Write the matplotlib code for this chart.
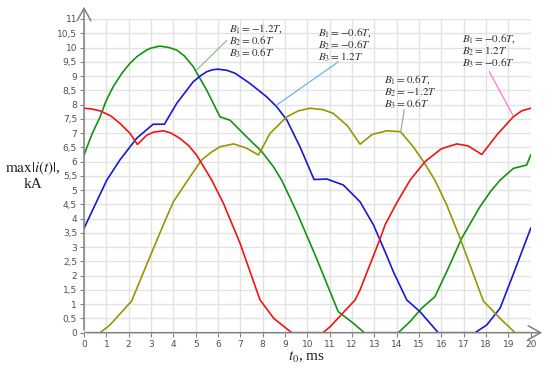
import numpy as np
import matplotlib
matplotlib.use("Agg")
import matplotlib.pyplot as plt

plt.rcParams['mathtext.fontset'] = 'stix'
plt.rcParams['font.family'] = ['DejaVu Sans']

# curves: t0 in ms, max|i(t)| in kA
red_t = [0, 0.3, 0.72, 1.2, 1.61, 2.06, 2.39, 2.8, 3.1, 3.55, 3.9, 4.30, 4.7, 5.04, 5.72, 6.24, 6.99,
         7.88, 8.5, 9.3, 10.7, 11.02, 12.14, 12.36, 13.26, 13.48, 14.0, 14.6, 15.27, 16.0, 16.69,
         17.2, 17.81, 18.5, 19.22, 19.6, 20.0]
red_v = [7.87, 7.85, 7.78, 7.6, 7.34, 6.99, 6.60, 6.92, 7.03, 7.08, 7.0, 6.81, 6.55, 6.23, 5.35, 4.54, 3.13,
         1.15, 0.5, 0.0, 0.0, 0.21, 1.15, 1.5, 3.3, 3.78, 4.55, 5.35, 6.0, 6.45, 6.62,
         6.55, 6.25, 6.95, 7.57, 7.78, 7.87]

olive_t = [0, 0.72, 1.16, 2.13, 2.95, 3.55, 4.0, 4.75, 5.27, 5.7, 6.09, 6.7, 7.28, 7.81, 8.33, 9.08,
           9.6, 10.12, 10.7, 11.16, 11.8, 12.36, 12.9, 13.55, 14.17, 14.74, 15.2, 15.71, 16.24,
           16.84, 17.88, 18.63, 19.3, 20]
olive_v = [0, 0, 0.27, 1.11, 2.66, 3.78, 4.59, 5.47, 6.06, 6.33, 6.52, 6.62, 6.47, 6.23, 6.99, 7.57,
           7.78, 7.87, 7.82, 7.69, 7.25, 6.61, 6.95, 7.08, 7.05, 6.52, 6.0, 5.35, 4.48,
           3.31, 1.11, 0.5, 0.0, 0]

green_t = [0, 0.35, 0.72, 1.0, 1.31, 1.7, 2.06, 2.4, 2.8, 3.0, 3.40, 3.8, 4.15, 4.5, 4.89, 5.49,
           6.09, 6.54, 7.28, 7.96, 8.48, 8.85, 9.52, 10.41, 11.38, 12.06, 12.55, 14.07, 14.6,
           15.12, 15.71, 16.24, 16.91, 17.73, 18.2, 18.63, 19.22, 19.82, 20]
green_v = [6.23, 6.95, 7.57, 8.15, 8.63, 9.1, 9.45, 9.7, 9.91, 9.98, 10.05, 10.0, 9.91, 9.7, 9.33, 8.51,
           7.57, 7.45, 6.87, 6.35, 5.82, 5.35, 4.24, 2.61, 0.74, 0.33, 0, 0, 0.39,
           0.86, 1.26, 2.14, 3.31, 4.42, 4.95, 5.35, 5.76, 5.88, 6.23]

blue_t = [0, 1.02, 1.61, 2.36, 2.96, 3.1, 3.6, 4.15, 4.89, 5.2, 5.49, 5.75, 6.01, 6.4, 6.76, 7.43,
          8.18, 8.63, 9.08, 9.67, 10.3, 10.87, 11.61, 12.36, 12.96, 13.48, 13.85, 14.45, 15.04,
          15.86, 17.51, 18.03, 18.63, 19.22, 20]
blue_v = [3.66, 5.35, 6.06, 6.82, 7.22, 7.31, 7.31, 8.04, 8.80, 9.0, 9.15, 9.22, 9.24, 9.2, 9.10, 8.74,
          8.27, 7.92, 7.46, 6.52, 5.37, 5.39, 5.18, 4.59, 3.78, 2.84, 2.14, 1.15, 0.74,
          0, 0, 0.27, 0.86, 2.05, 3.66]

x_ticks = list(range(0, 21))
y_ticks = [i * 0.5 for i in range(0, 23)]
y_labels = [str(int(v)) if v == int(v) else str(v).replace('.', ',') for v in y_ticks]

# labels: text lines, where the text starts, leader line (text end -> curve end), colour
labels = [
    ([r'$B_1=-1.2T$,', r'$B_2=0.6T$', r'$B_3=0.6T$'], (6.51, 10.65), (6.38, 10.24), (5.04, 9.21), '#8cc08c'),
    ([r'$B_1=-0.6T$,', r'$B_2=-0.6T$', r'$B_3=1.2T$'], (10.49, 10.51), (11.39, 9.50), (8.62, 7.98), '#6fb4e6'),
    ([r'$B_1=0.6T$,', r'$B_2=-1.2T$', r'$B_3=0.6T$'], (13.43, 8.86), (14.34, 7.81), (14.18, 7.05), '#a8a8a8'),
    ([r'$B_1=-0.6T$,', r'$B_2=1.2T$', r'$B_3=-0.6T$'], (16.91, 10.30), (18.15, 9.15), (19.2, 7.63), '#ff77dd'),
]

fig = plt.figure(figsize=(5.5, 3.69), dpi=100)
ax = fig.add_axes([84 / 550, 1 - 332.7 / 369, 446.7 / 550, 313.7 / 369])

ax.plot(green_t, green_v, color='#129412', lw=1.2, zorder=3)
ax.plot(blue_t, blue_v, color='#1818d8', lw=1.2, zorder=3)
ax.plot(olive_t, olive_v, color='#979700', lw=1.2, zorder=3)
ax.plot(red_t, red_v, color='#f01414', lw=1.2, zorder=3)

for lines, pos, p1, p2, col in labels:
    ax.plot([p1[0], p2[0]], [p1[1], p2[1]], color=col, lw=0.9, zorder=4, clip_on=False)
    for i, s in enumerate(lines):
        ax.annotate(s, xy=pos, xytext=(0, -8.64 * i), textcoords='offset points',
                    va='center', ha='left', fontsize=8, color='#333333', zorder=5,
                    family='Liberation Serif')

ax.set_xlim(0, 20)
ax.set_ylim(0, 11)
ax.set_xticks(x_ticks)
ax.set_yticks(y_ticks)
ax.set_yticklabels(y_labels)
ax.tick_params(labelsize=6.5, labelcolor='#505050', color='#808080', length=3, width=0.8, pad=2)
ax.grid(color='#e2e2e2', lw=1, zorder=0)
ax.set_axisbelow(True)
for sp in ax.spines.values():
    sp.set_visible(False)

# axes drawn as arrows
ax.annotate('', xy=(0, 1.048), xytext=(0, 0), xycoords='axes fraction',
            arrowprops=dict(arrowstyle='->,head_length=0.9,head_width=0.5', color='#808080', lw=1.1))
ax.annotate('', xy=(1.032, 0), xytext=(0, 0), xycoords='axes fraction',
            arrowprops=dict(arrowstyle='->,head_length=0.9,head_width=0.5', color='#808080', lw=1.1))

fig.text(33 / 550, 1 - 168 / 369, r'$\max|i(t)|$,', fontsize=11, ha='center', va='center',
         color='#222222', family='Liberation Serif')
fig.text(33 / 550, 1 - 185 / 369, 'kA', family='Liberation Serif', fontsize=11, ha='center',
         va='center', color='#222222')
fig.text(307 / 550, 1 - 357 / 369, r'$t_0$, ms', fontsize=11, ha='center', va='center',
         color='#222222', family='Liberation Serif')

fig.savefig('out.png', dpi=100)
